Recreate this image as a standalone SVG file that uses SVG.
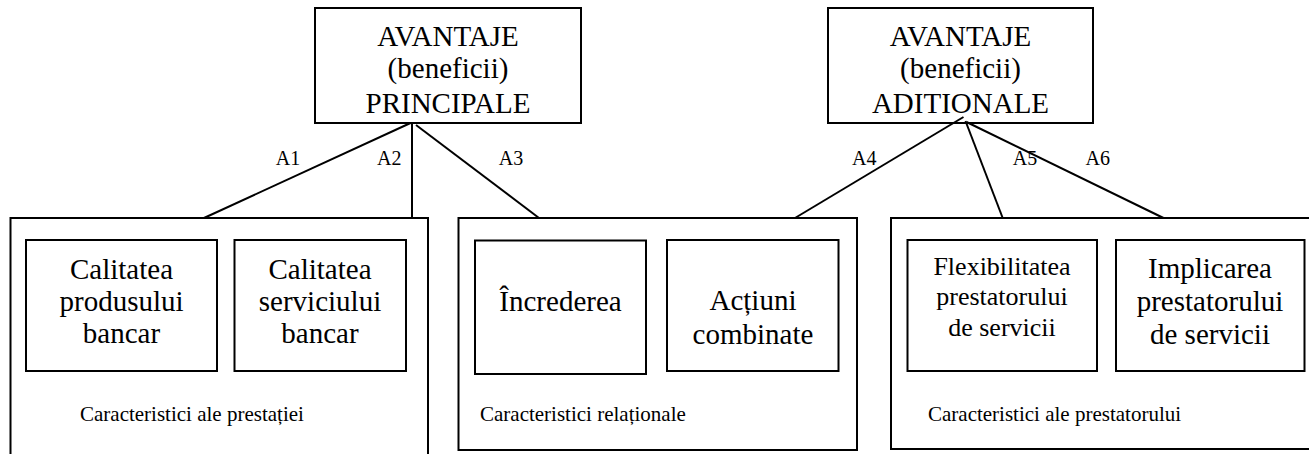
<svg xmlns="http://www.w3.org/2000/svg" width="1309" height="454" viewBox="0 0 1309 454" font-family="'Liberation Serif','Times New Roman',serif">
<style>
  .box{fill:#fff;stroke:#000;stroke-width:2}
  .ln{stroke:#000;stroke-width:2;fill:none}
  .t,.n,.f,.a,.c{font-family:"Liberation Serif","Times New Roman",serif;fill:#000}
  .t{font-size:29px;text-anchor:middle}
  .n{font-size:29px;text-anchor:middle}
  .f{font-size:26px;text-anchor:middle}
  .a{font-size:20px}
  .c{font-size:21px}
</style>
<defs>
  <clipPath id="clip1"><rect x="316" y="9" width="264" height="104"/></clipPath>
  <clipPath id="clip2"><rect x="829" y="9" width="263" height="104"/></clipPath>
</defs>
<rect width="1309" height="454" fill="#fff"/>

<g id="top-principale">
  <rect class="box" x="315" y="8" width="266" height="115"/>
  <g clip-path="url(#clip1)">
    <text class="t" x="448" y="46">AVANTAJE</text>
    <text class="t" x="448" y="78">(beneficii)</text>
    <text class="t" x="448" y="113">PRINCIPALE</text>
  </g>
</g>

<g id="top-aditionale">
  <rect class="box" x="828" y="8" width="265" height="115"/>
  <g clip-path="url(#clip2)">
    <text class="t" x="960.5" y="46">AVANTAJE</text>
    <text class="t" x="960.5" y="78">(beneficii)</text>
    <text class="t" x="960.5" y="113">ADITIONALE</text>
  </g>
</g>

<g id="connectors">
  <line class="ln" x1="410.5" y1="123" x2="204" y2="218"/>
  <line class="ln" x1="412" y1="123" x2="412" y2="218"/>
  <line class="ln" x1="416" y1="125" x2="539" y2="218"/>
  <line class="ln" x1="963.5" y1="117" x2="795" y2="218"/>
  <line class="ln" x1="965.5" y1="121" x2="1002.7" y2="218"/>
  <line class="ln" x1="966.5" y1="122" x2="1163.5" y2="218"/>
  <text class="a" x="275.7" y="165">A1</text>
  <text class="a" x="377" y="165">A2</text>
  <text class="a" x="498.7" y="165">A3</text>
  <text class="a" x="852" y="165">A4</text>
  <text class="a" x="1012.8" y="165">A5</text>
  <text class="a" x="1085.6" y="165">A6</text>
</g>

<g id="grp-prestatie">
  <rect class="box" x="10.5" y="218" width="417.5" height="250"/>
  <text class="c" x="80" y="421">Caracteristici ale prestației</text>
</g>
<g id="node-calitatea-produsului">
  <rect class="box" x="26" y="240" width="191" height="131"/>
  <text class="n" x="121.5" y="279">Calitatea</text>
  <text class="n" x="121.5" y="311">produsului</text>
  <text class="n" x="121.5" y="343">bancar</text>
</g>
<g id="node-calitatea-serviciului">
  <rect class="box" x="234.5" y="240" width="171.5" height="131"/>
  <text class="n" x="320" y="279">Calitatea</text>
  <text class="n" x="320" y="311">serviciului</text>
  <text class="n" x="320" y="343">bancar</text>
</g>

<g id="grp-relationale">
  <rect class="box" x="458.5" y="218" width="398.5" height="232"/>
  <text class="c" x="480" y="421">Caracteristici relaționale</text>
</g>
<g id="node-increderea">
  <rect class="box" x="475" y="240.5" width="171" height="133.5"/>
  <text class="n" x="560.5" y="311">Încrederea</text>
</g>
<g id="node-actiuni">
  <rect class="box" x="667" y="240" width="171.5" height="131"/>
  <text class="n" x="753" y="310">Acțiuni</text>
  <text class="n" x="753" y="344">combinate</text>
</g>

<g id="grp-prestatorului">
  <rect class="box" x="891" y="218" width="430" height="231"/>
  <text class="c" x="928" y="421">Caracteristici ale prestatorului</text>
</g>
<g id="node-flexibilitatea">
  <rect class="box" x="907.5" y="240" width="189.5" height="131"/>
  <text class="f" x="1002" y="275">Flexibilitatea</text>
  <text class="f" x="1002" y="305">prestatorului</text>
  <text class="f" x="1002" y="336">de servicii</text>
</g>
<g id="node-implicarea">
  <rect class="box" x="1116" y="240" width="188.5" height="131"/>
  <text class="n" x="1210" y="278">Implicarea</text>
  <text class="n" x="1210" y="311">prestatorului</text>
  <text class="n" x="1210" y="344">de servicii</text>
</g>
</svg>
